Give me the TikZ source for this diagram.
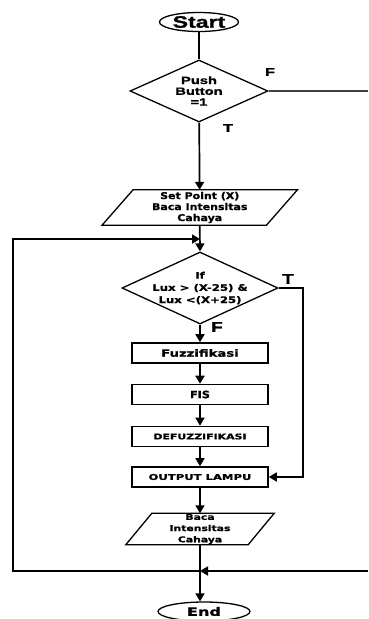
\documentclass[tikz,border=0pt]{standalone}
\usepackage{fontspec}
\setmainfont{DejaVu Sans}
\newfontfamily\lsb{Liberation Sans Bold}
\newfontfamily\dvb{DejaVu Sans Bold}
\usetikzlibrary{shapes.geometric,arrows.meta,calc}
\newcommand\lsfont[3]{\lsb\fontsize{#1}{#2}\selectfont\addfontfeatures{FakeStretch=#3,FakeBold=1.2}}
\newcommand\dvfont[3]{\dvb\fontsize{#1}{#2}\selectfont\addfontfeatures{FakeStretch=#3,FakeBold=1.2}}
\begin{document}
\begin{tikzpicture}[x=1pt,y=-1pt,
  flow/.style={line width=1.7pt,-{Triangle[length=8pt,width=9pt]}},
  plain/.style={line width=1.7pt},
  term/.style={ellipse,draw,line width=1.3pt,inner sep=0pt},
  dec/.style={diamond,draw,line width=1.3pt,inner sep=0pt},
  proc/.style={rectangle,draw,line width=1.6pt,minimum width=136pt,minimum height=20pt,inner sep=0pt},
  io/.style={rectangle,inner sep=0pt,align=center},
  paraedge/.style={line width=1.3pt},
  lblsmall/.style={font=\lsfont{11}{13}{1.5}},
  lblbig/.style={font=\lsfont{14}{16}{1.35}}
]
\useasboundingbox (0,0) rectangle (368,619);

% terminals
\node[term,minimum width=79pt,minimum height=19pt,font=\lsfont{16.5}{16.5}{1.4}] (start) at (199,22) {Start};
\node[term,minimum width=92pt,minimum height=19pt,font=\dvfont{11.5}{11.5}{1.4}] (end) at (204,611.5) {End};

% decisions
\node[dec,minimum width=138pt,minimum height=62pt] (d1) at (199,91) {};
\node[align=center,font=\lsfont{10.5}{10.8}{1.4}] (d1t) at (d1) {Push\\Button\\=1};
\node[dec,minimum width=156pt,minimum height=72pt] (d2) at (200,288) {};
\node[align=center,font=\dvfont{9}{12.2}{1.3}] (d2t) at (d2) {If\\Lux > (X-25) \&\\Lux <(X+25)};

% input/output parallelograms
\node[io,minimum width=164pt,minimum height=35pt,font=\dvfont{9.3}{11}{1.18}] (p1) at (199.75,207.5) {Set Point (X)\\Baca Intensitas\\Cahaya};
\draw[paraedge] ([xshift=15.5pt]p1.north west) -- ([xshift=15.5pt]p1.north east) -- ([xshift=-15.5pt]p1.south east) -- ([xshift=-15.5pt]p1.south west) -- cycle;
\node[io,minimum width=122pt,minimum height=31pt,font=\dvfont{8}{11.2}{1.35}] (p2) at (200,529) {Baca\\Intensitas\\Cahaya};
\draw[paraedge] ([xshift=13pt]p2.north west) -- ([xshift=13pt]p2.north east) -- ([xshift=-13pt]p2.south east) -- ([xshift=-13pt]p2.south west) -- cycle;

% process boxes
\node[proc,font=\dvfont{10}{11}{1.32}] (fuz) at (200,353) {Fuzzifikasi};
\node[proc,font=\dvfont{10}{11}{1.12}] (fis) at (200,394.5) {FIS};
\node[proc,font=\dvfont{7.8}{11}{1.4}] (def) at (200,436.5) {DEFUZZIFIKASI};
\node[proc,font=\dvfont{8}{11}{1.45}] (out) at (200,477) {OUTPUT LAMPU};

% helper coordinates
\coordinate (fr) at (368,91);
\coordinate (j1) at (200,239);
\coordinate (j2) at (200,571);
\coordinate (lt) at (13,239);
\coordinate (lb) at (13,571);
\coordinate (br) at (368,571);
\coordinate (tr) at (303,288);
\coordinate (tb) at (303,477);

% connectors
\draw[plain] (start) -- (d1);
\draw[line width=1.3pt,draw=black!75] (d1.east) -- (fr);
\draw[flow] (d1) -- (p1);
\draw[flow] (p1.south) -- (d2.north);
\draw[flow] (d2) -- (fuz);
\draw[flow] (fuz) -- (fis);
\draw[flow] (fis) -- (def);
\draw[flow] (def) -- (out);
\draw[flow] (out) -- (p2.north);
\draw[flow] (p2.south) -- (p2.south |- end.north);
\draw[flow] (d2.east) -- (tr) -- (tb) -- (out.east);
\draw[flow] (j2) -- (lb) -- (lt) -- (j1);
\draw[flow] (br) -- (j2);

% labels
\node[lblsmall] (lf1) at (270,72) {F};
\node[lblsmall] (lt1) at (228,128) {T};
\node[lblbig] (lt2) at (288,279) {T};
\node[lblbig] (lf2) at (217,327) {F};
\end{tikzpicture}
\end{document}
